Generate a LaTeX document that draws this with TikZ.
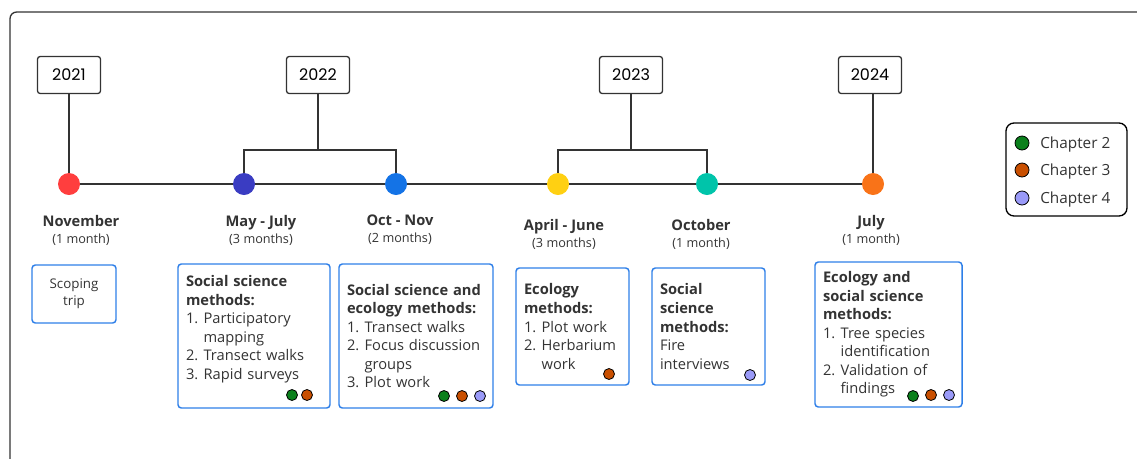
\documentclass[tikz,border=0pt]{standalone}
\usepackage{fontspec}
\setmainfont{Open Sans}
\newfontfamily\yearfont{Poppins}

\definecolor{framegray}{HTML}{333333}
\definecolor{txt}{HTML}{333333}
\definecolor{boxblue}{HTML}{2E7FE8}
\definecolor{dred}{HTML}{FF3E3E}
\definecolor{dindigo}{HTML}{3A3CC2}
\definecolor{dblue}{HTML}{1473E6}
\definecolor{dyellow}{HTML}{FFD012}
\definecolor{dteal}{HTML}{00C4AA}
\definecolor{dorange}{HTML}{F97318}
\definecolor{chtwo}{HTML}{0B801C}
\definecolor{chthree}{HTML}{C94F00}
\definecolor{chfour}{HTML}{9A9AF8}

% numbered line with hanging indent
\newcommand{\mitem}[2]{\par\noindent\hangindent=1.2em\hangafter=1\makebox[1.2em][l]{#1}#2\par}

\begin{document}
\begin{tikzpicture}[x=0.75pt,y=-0.75pt,
    year/.style={draw=framegray,line width=1pt,rounded corners=2pt,
      minimum width=47.25pt,minimum height=27.75pt,
      font=\yearfont\fontsize{12}{14}\selectfont},
    dot/.style={circle,inner sep=0pt,minimum size=16.5pt,fill=#1},
    when/.style={align=center,text=txt,font=\fontsize{9.5}{12.75}\selectfont},
    method/.style={draw=boxblue,line width=1.1pt,rounded corners=2.5pt,
      align=left,text=txt,inner xsep=6pt,text width=#1,
      font=\fontsize{11}{13.9}\selectfont},
    chap/.style={circle,draw=black,line width=0.6pt,inner sep=0pt,minimum size=8.25pt,fill=#1},
    bigchap/.style={chap=#1,minimum size=10.5pt},
    chaptext/.style={anchor=base west,text=txt,font=\fontsize{11.5}{14}\selectfont,inner sep=0pt}]
  \useasboundingbox (0,0) rectangle (1137,458);
  \draw[framegray,line width=1pt,rounded corners=5pt] (10,470) -- (10,12) -- (1150,12);

  % years
  \node[year] (yr21) at (69,75) {2021};
  \node[year] (yr22) at (318,75) {2022};
  \node[year] (yr23) at (631,75) {2023};
  \node[year] (yr24) at (870,75) {2024};

  % timeline dots
  \node[dot=dred] (nov) at (69,184) {};
  \node[dot=dindigo] (mayjul) at (244,184) {};
  \node[dot=dblue] (octnov) at (396,184) {};
  \node[dot=dyellow] (aprjun) at (558,184) {};
  \node[dot=dteal] (oct) at (707,184) {};
  \node[dot=dorange] (jul) at (873,184) {};

  \draw[framegray,line width=1pt] (nov) -- (mayjul) -- (octnov) -- (aprjun) -- (oct) -- (jul);

  \coordinate (br22) at (318,150);
  \coordinate (br23) at (631,150);
  \draw[framegray,line width=1pt] (yr21) -- (nov);
  \draw[framegray,line width=1pt] (yr22) -- (br22);
  \draw[framegray,line width=1pt] (mayjul) -- (mayjul |- br22) -| (octnov);
  \draw[framegray,line width=1pt] (yr23) -- (br23);
  \draw[framegray,line width=1pt] (aprjun) -- (aprjun |- br23) -| (oct);
  \draw[framegray,line width=1pt] (yr24.south -| jul) -- (jul);

  % dates
  \node[when] (lnov) at (81,230) {{\bfseries\fontsize{11}{12.75}\selectfont November}\\(1 month)};
  \node[when] (lmayjul) at (261,230) {{\bfseries\fontsize{11}{12.75}\selectfont May - July}\\(3 months)};
  \node[when] (loctnov) at (400,230) {{\bfseries\fontsize{11}{12.75}\selectfont Oct - Nov}\\(2 months)};
  \node[when] (laprjun) at (564,234) {{\bfseries\fontsize{11}{12.75}\selectfont April - June}\\(3 months)};
  \node[when] (loct) at (701,234) {{\bfseries\fontsize{11}{12.75}\selectfont October}\\(1 month)};
  \node[when] (ljul) at (871,230) {{\bfseries\fontsize{11}{12.75}\selectfont July}\\(1 month)};

  % methods
  \node[method=51pt,align=center,minimum height=43.5pt,font=\fontsize{10}{13}\selectfont] (bnov) at (74,294) {Scoping\\trip};
  \node[method=102pt,minimum height=108pt] (bmayjul) at (254,336) {%
    \textbf{Social science methods:}
    \mitem{1.}{Participatory mapping}
    \mitem{2.}{Transect walks}
    \mitem{3.}{Rapid surveys}\vspace{10pt}};
  \node[method=103.5pt,minimum height=108pt] (boctnov) at (416,336) {%
    \textbf{Social science and ecology methods:}
    \mitem{1.}{Transect walks}
    \mitem{2.}{Focus discussion groups}
    \mitem{3.}{Plot work}};
  \node[method=72.75pt,minimum height=87.75pt] (baprjun) at (572.5,326.5) {%
    \textbf{Ecology\\methods:}
    \mitem{1.}{Plot work}
    \mitem{2.}{Herbarium work}};
  \node[method=72.75pt,minimum height=87.75pt] (boct) at (708.5,326.5) {%
    \textbf{Social\\science\\methods:}\\
    Fire\\interviews};
  \node[method=98.25pt,minimum height=108.75pt] (bjul) at (888.5,334.5) {%
    \textbf{Ecology and social science methods:}
    \mitem{1.}{Tree species identification}
    \mitem{2.}{Validation of findings}};

  % chapters per box
  \node[chap=chtwo] (mayjul2) at (292,395) {};
  \node[chap=chthree] (mayjul3) at (307,395) {};
  \node[chap=chtwo] (octnov2) at (444,396) {};
  \node[chap=chthree] (octnov3) at (462,396) {};
  \node[chap=chfour] (octnov4) at (480,396) {};
  \node[chap=chthree] (aprjun3) at (609,374) {};
  \node[chap=chfour] (oct4) at (750,375) {};
  \node[chap=chtwo] (jul2) at (913,396) {};
  \node[chap=chthree] (jul3) at (931,395) {};
  \node[chap=chfour] (jul4) at (949,395) {};

  % legend
  \node[draw=black,line width=1pt,rounded corners=6pt,minimum width=90.75pt,minimum height=69.75pt] (legend) at (1066.5,169.5) {};
  \node[bigchap=chtwo] (lg2) at (1022,143) {};
  \node[bigchap=chthree] (lg3) at (1022,170) {};
  \node[bigchap=chfour] (lg4) at (1022,198) {};
  \node[chaptext] (lgt2) at (1040,148) {Chapter 2};
  \node[chaptext] (lgt3) at (1040,175) {Chapter 3};
  \node[chaptext] (lgt4) at (1040,203) {Chapter 4};
\end{tikzpicture}
\end{document}
